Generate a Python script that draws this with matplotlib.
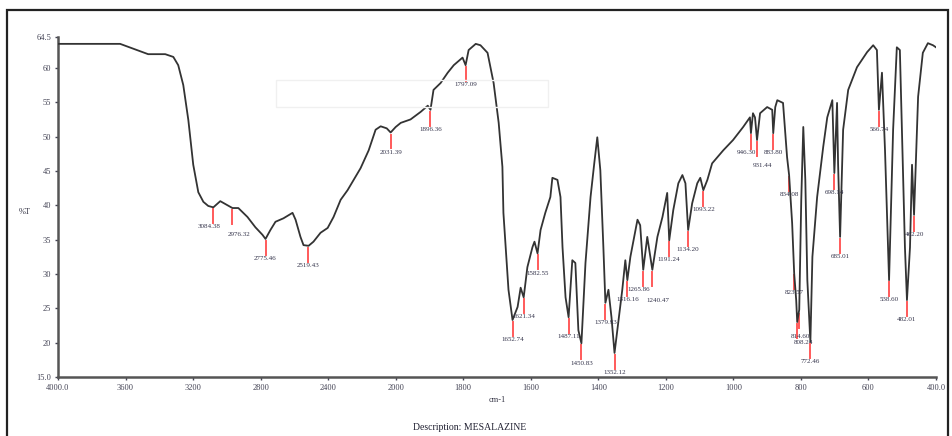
import numpy as np
import matplotlib
matplotlib.use('Agg')
import matplotlib.pyplot as plt
from matplotlib.patches import Rectangle

# IR spectrum (wavenumber cm-1, %T)
wavenumber = [4000, 3810, 3632, 3543, 3466, 3365, 3317, 3288, 3258, 3228, 3199, 3169, 3139, 3110,
              3080, 3039, 2967, 2932, 2878, 2831, 2789, 2771, 2742, 2712, 2665, 2611, 2593, 2564,
              2546, 2516, 2487, 2445, 2403, 2368, 2326, 2285, 2249, 2208, 2160, 2119, 2089, 2053,
              2030, 2000, 1985, 1956, 1926, 1905, 1897, 1888, 1867, 1846, 1828, 1802, 1793, 1784,
              1763, 1749, 1728, 1710, 1695, 1684, 1681, 1666, 1654, 1639, 1630, 1621, 1610, 1595,
              1589, 1580, 1571, 1557, 1542, 1536, 1521, 1512, 1506, 1497, 1488, 1477, 1468, 1459,
              1450, 1438, 1423, 1412, 1403, 1394, 1385, 1379, 1370, 1361, 1352, 1341, 1329, 1320,
              1314, 1305, 1284, 1276, 1267, 1255, 1240, 1225, 1210, 1196, 1190, 1178, 1163, 1151,
              1142, 1134, 1122, 1107, 1098, 1089, 1077, 1063, 1030, 1001, 971, 951, 948, 942,
              936, 930, 921, 900, 885, 882, 876, 870, 853, 841, 835, 826, 820, 814,
              811, 805, 799, 793, 787, 781, 772, 766, 752, 734, 722, 707, 701, 693,
              690, 684, 675, 660, 634, 604, 586, 575, 569, 560, 551, 539, 527, 516,
              507, 501, 492, 486, 477, 471, 465, 453, 439, 424, 409, 400]
transmittance = [63.5, 63.5, 63.5, 62.7, 62.0, 62.0, 61.6, 60.4, 57.5, 52.4, 45.9, 41.9, 40.5, 39.9,
                 39.7, 40.6, 39.6, 39.6, 38.3, 36.8, 35.7, 35.1, 36.4, 37.6, 38.1, 38.9, 37.9, 35.4,
                 34.2, 34.1, 34.7, 36.0, 36.7, 38.3, 40.8, 42.2, 43.7, 45.4, 48.0, 51.0, 51.5, 51.2,
                 50.6, 51.4, 52.0, 52.5, 53.6, 54.5, 53.9, 56.8, 57.8, 59.3, 60.4, 61.5, 60.4, 62.6,
                 63.5, 63.3, 62.2, 57.8, 52.0, 45.6, 38.9, 27.7, 23.3, 25.2, 28.0, 26.6, 31.0, 33.9,
                 34.7, 33.0, 36.4, 38.9, 41.2, 44.0, 43.7, 41.2, 33.9, 26.6, 23.7, 32.0, 31.6, 21.8,
                 19.9, 31.6, 41.2, 46.1, 49.9, 45.1, 33.9, 25.8, 27.7, 23.7, 18.5, 22.9, 27.7, 32.0,
                 29.1, 32.5, 37.9, 37.1, 30.6, 35.4, 30.6, 35.4, 38.3, 41.8, 34.9, 39.3, 43.2, 44.4,
                 43.2, 36.4, 40.3, 43.2, 44.0, 42.2, 43.7, 46.1, 48.0, 49.5, 51.4, 52.8, 50.5, 53.4,
                 52.8, 49.5, 53.4, 54.3, 53.9, 50.5, 54.3, 55.3, 54.9, 47.0, 44.4, 37.4, 30.1, 26.2,
                 23.0, 24.8, 40.8, 51.4, 43.7, 29.1, 20.1, 32.5, 41.2, 48.5, 52.8, 55.3, 44.7, 54.9,
                 46.1, 35.4, 51.0, 56.8, 60.1, 62.3, 63.3, 62.6, 53.9, 59.3, 48.0, 29.1, 51.0, 63.0,
                 62.6, 51.0, 33.9, 26.2, 33.9, 45.9, 38.6, 55.8, 62.2, 63.6, 63.3, 63.0]

# peak picks
peak_pos = [3082, 2970, 2771, 2518, 2030, 1897, 1793, 1654, 1621, 1580, 1488, 1450, 1379,
            1352, 1314, 1267, 1240, 1190, 1134, 1089, 948, 930, 882, 835, 820, 811, 806,
            772, 701, 684, 569, 539, 486, 465]
peak_labels = ['3084.38', '2976.32', '2775.46', '2519.43', '2031.39', '1896.36', '1797.09',
               '1652.74', '1621.34', '1582.55', '1487.11', '1450.83', '1379.93', '1352.12',
               '1316.16', '1265.86', '1240.47', '1191.24', '1134.20', '1093.22', '946.30',
               '931.44', '883.80', '834.08', '823.57', '814.60', '808.24', '772.46', '698.14',
               '685.01', '566.74', '538.60', '482.01', '462.20']
# label nudges (points) where the picks crowd together
label_shift = {'3084.38': (-3, 0), '2976.32': (5, -5), '1265.86': (-3, 0), '1240.47': (4, -8),
               '823.57': (0, 0), '814.60': (2, 4), '808.24': (3, -8), '931.44': (4, -4),
               '946.30': (-3, 0)}

x_ticks = [4000, 3600, 3200, 2800, 2400, 2000, 1800, 1600, 1400, 1200, 1000, 800, 600, 400]
x_tick_labels = ['4000.0', '3600', '3200', '2800', '2400', '2000', '1800', '1600', '1400',
                 '1200', '1000', '800', '600', '400.0']
y_ticks = [15, 20, 25, 30, 35, 40, 45, 50, 55, 60, 64.5]
y_tick_labels = ['15.0', '20', '25', '30', '35', '40', '45', '50', '55', '60', '64.5']


def fwd(w):
    w = np.asarray(w, dtype=float)
    return np.where(w > 2000, 2000 + (w - 2000) / 2, w)


def inv(u):
    u = np.asarray(u, dtype=float)
    return np.where(u > 2000, 2000 + 2 * (u - 2000), u)


plt.rcParams['font.family'] = ['Liberation Serif', 'DejaVu Serif']

fig = plt.figure(figsize=(9.52, 4.36), dpi=100)
ax = fig.add_axes([58 / 952, 59 / 436, 878 / 952, 340 / 436])

ax.set_xscale('function', functions=(fwd, inv))
ax.plot(wavenumber, transmittance, color='#333333', lw=1.3, zorder=3)

wn_sorted = np.array(wavenumber[::-1], dtype=float)
t_sorted = np.array(transmittance[::-1], dtype=float)
for pos, lab in zip(peak_pos, peak_labels):
    t = np.interp(pos, wn_sorted, t_sorted)
    ax.plot([pos, pos], [t - 0.3, t - 2.3], color='#ff5a5a', lw=1.4, zorder=2)
    dx, dy = label_shift.get(lab, (0, 0))
    ax.annotate(lab, (pos, t - 2.5), xytext=(dx, dy), textcoords='offset points',
                fontsize=5, color='#33334a', ha='center', va='top', zorder=4)

ax.set_xlim(4000, 400)
ax.set_ylim(15, 64.5)
ax.set_xticks(x_ticks)
ax.set_xticklabels(x_tick_labels)
ax.set_yticks(y_ticks)
ax.set_yticklabels(y_tick_labels)
ax.tick_params(labelsize=6, colors='#444455', length=2, width=1, pad=3)
for side in ['top', 'right']:
    ax.spines[side].set_visible(False)
for side in ['left', 'bottom']:
    ax.spines[side].set_color('#555555')
    ax.spines[side].set_linewidth(1.8)

fig.text(25 / 952, 1 - 212 / 436, '%T', fontsize=6, color='#333344', ha='center', va='center')
fig.text(497 / 952, 1 - 400 / 436, 'cm-1', fontsize=6, color='#333344', ha='center', va='center')
fig.text(470 / 952, 1 - 427 / 436, 'Description: MESALAZINE', fontsize=7, color='#222233',
         ha='center', va='center')

# faint box and outer frame
fig.patches.append(Rectangle((276 / 952, 1 - 107 / 436), 272 / 952, 27 / 436,
                             transform=fig.transFigure, fill=False, ec='#f0f0f0', lw=1))
fig.patches.append(Rectangle((7 / 952, -0.05), 941 / 952, 1.05 - 10 / 436,
                             transform=fig.transFigure, fill=False, ec='#222222', lw=1.6))

fig.savefig('out.png', dpi=100)
